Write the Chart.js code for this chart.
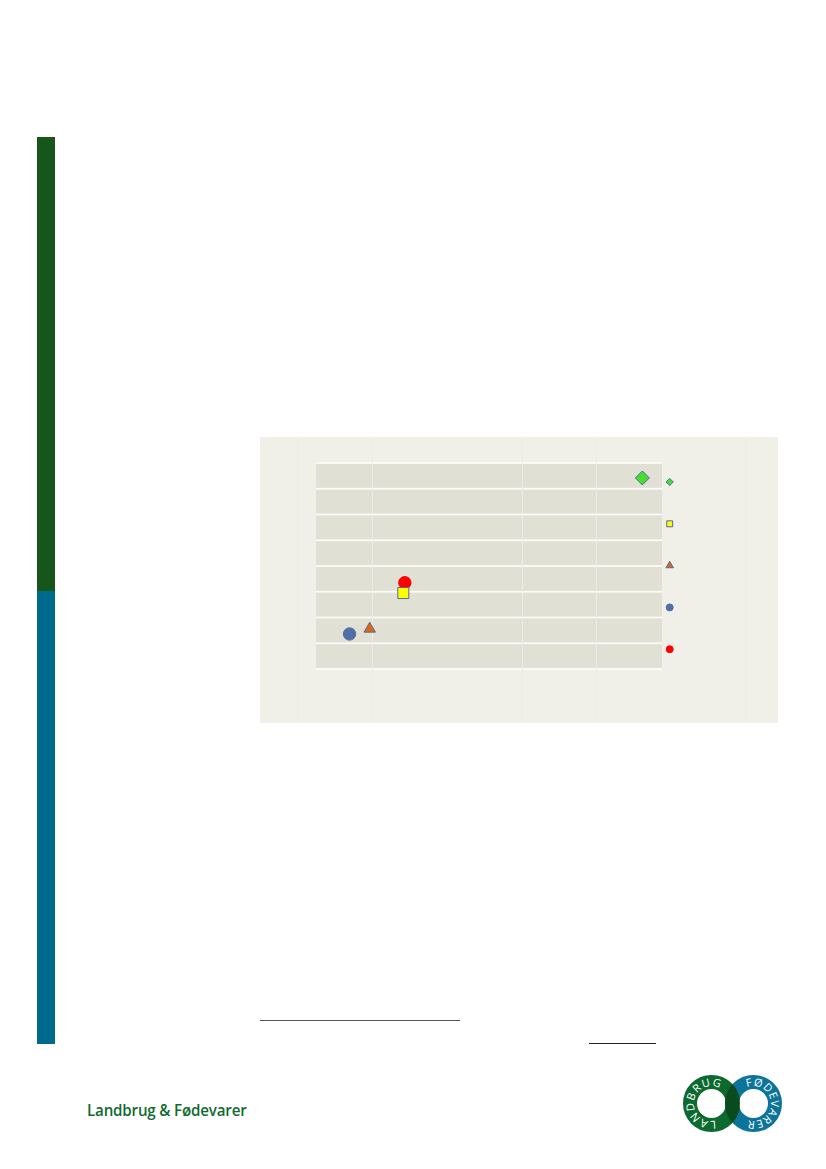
<!DOCTYPE html>
<html>
<head>
<meta charset="utf-8">
<title>Landbrug & Fødevarer</title>
<script src="https://cdn.jsdelivr.net/npm/chart.js@4/dist/chart.umd.min.js"></script>
<style>
html, body { margin: 0; padding: 0; background: #fff; }
#page { position: relative; width: 826px; height: 1169px; overflow: hidden; }
#barGreen { position: absolute; left: 37px; top: 137px; width: 18px; height: 454px; background: #15561a; }
#barBlue { position: absolute; left: 37px; top: 591px; width: 18px; height: 453px; background: #006a8e; }
#chartBox { position: absolute; left: 260px; top: 437px; width: 518px; height: 286px; }
#rule1 { position: absolute; left: 260px; top: 1020px; width: 200px; height: 1px; background: #555; }
#rule2 { position: absolute; left: 589px; top: 1043px; width: 67px; height: 1px; background: #222; }
#wordmark { position: absolute; left: 87px; top: 1098px; font: 600 17px "Open Sans", sans-serif; color: #0f6b30; white-space: nowrap; transform-origin: left top; transform: scaleX(0.89); letter-spacing: -0.2px; }
#logo { position: absolute; left: 675px; top: 1068px; }
</style>
</head>
<body>
<div id="page">
  <div id="barGreen"></div>
  <div id="barBlue"></div>
  <div id="chartBox"><canvas id="myChart"></canvas></div>
  <div id="rule1"></div>
  <div id="rule2"></div>
  <div id="wordmark">Landbrug &amp; Fødevarer</div>
  <svg id="logo" width="115" height="70" viewBox="0 0 115 70">
    <defs>
      <path id="arcL" d="M 40.7 52.5 A 17.5 17.5 0 1 1 52.9 29.5"></path>
      <path id="arcR" d="M 72 19.3 A 17.5 17.5 0 1 1 62.1 41.5"></path>
      <clipPath id="overlap"><circle cx="36.5" cy="35.5" r="28.5"></circle></clipPath>
    </defs>
    <circle cx="78.5" cy="35.5" r="21.5" fill="none" stroke="#0d7499" stroke-width="14"></circle>
    <circle cx="36.5" cy="35.5" r="21.5" fill="none" stroke="#0c6a2e" stroke-width="14"></circle>
    <circle cx="78.5" cy="35.5" r="21.5" fill="none" stroke="#0a4a1f" stroke-width="14" clip-path="url(#overlap)"></circle>
    <text font-family="Open Sans, sans-serif" font-size="11" fill="#fff" letter-spacing="1.2"><textPath href="#arcL">LANDBRUG</textPath></text>
    <text font-family="Open Sans, sans-serif" font-size="11" fill="#fff" letter-spacing="0.6"><textPath href="#arcR">FØDEVARER</textPath></text>
  </svg>
</div>

<script>
var seriesNames = ["Serie 1", "Serie 2", "Serie 3", "Serie 4", "Serie 5"]
var seriesX = [4.61, 1.41, 0.96, 0.69, 1.43]
var seriesY = [7.42, 2.95, 1.56, 1.36, 3.35]
var pointShapes = ["rectRot", "rect", "triangle", "circle", "circle"]
var pointFills = ["#43e02e", "#ffff00", "#e0660f", "#4f6fa8", "#ff0000"]
var xGridValues = [0, 1, 3, 4, 6]
var rowCount = 8

var radiusBig = [7, 7.8, 6.6, 6.2, 6.2]
var radiusSmall = [3.6, 4.2, 4.3, 3.5, 3.5]

// bands behind the points, white line between every row
var rowsPlugin = {
  id: "rows",
  beforeDraw: function (chart) {
    var ctx = chart.ctx
    var y = chart.scales.y
    ctx.save()
    ctx.fillStyle = "#f0efe8"
    ctx.fillRect(0, 0, chart.width, chart.height)
    var left = 56
    var right = 402
    for (var i = 0; i < rowCount; i++) {
      ctx.fillStyle = "#e0e0d5"
      ctx.fillRect(left, y.getPixelForValue(i + 1), right - left, y.getPixelForValue(i) - y.getPixelForValue(i + 1))
    }
    ctx.fillStyle = "#fbfbf8"
    for (var j = 0; j <= rowCount; j++) {
      ctx.fillRect(left, y.getPixelForValue(j) - 0.9, right - left, 1.8)
    }
    ctx.restore()
  }
}

// small markers to the right of the plot, the labels are not in the picture
var keyPlugin = {
  id: "key",
  afterDraw: function (chart) {
    var ctx = chart.ctx
    chart.data.datasets.forEach(function (ds, i) {
      ctx.save()
      ctx.fillStyle = ds.backgroundColor
      ctx.strokeStyle = ds.borderColor
      ctx.lineWidth = ds.borderWidth
      Chart.helpers.drawPoint(ctx, { pointStyle: ds.pointStyle, radius: radiusSmall[i], rotation: 0, borderWidth: ds.borderWidth }, 409.7, 45 + i * 41.8)
      ctx.restore()
    })
  }
}

var datasets = seriesNames.map(function (name, i) {
  return {
    label: name,
    data: [{ x: seriesX[i], y: seriesY[i] }],
    pointStyle: pointShapes[i],
    backgroundColor: pointFills[i],
    borderColor: i >= 3 ? pointFills[i] : "#4f6a9f",
    borderWidth: 1,
    pointRadius: radiusBig[i]
  }
})

new Chart(document.getElementById("myChart"), {
  type: "scatter",
  data: { datasets: datasets },
  plugins: [rowsPlugin, keyPlugin],
  options: {
    responsive: true,
    maintainAspectRatio: false,
    animation: false,
    layout: { padding: 0, autoPadding: false },
    plugins: { legend: { display: false }, tooltip: { enabled: false } },
    scales: {
      x: {
        type: "linear",
        min: -0.509,
        max: 6.426,
        display: true,
        afterBuildTicks: function (axis) {
          axis.ticks = xGridValues.map(function (v) { return { value: v } })
        },
        afterFit: function (axis) { axis.height = 0 },
        ticks: { display: false, padding: 0 },
        border: { display: false },
        grid: { color: "#ecebe4", lineWidth: 1, drawTicks: false, tickLength: 0 }
      },
      y: {
        type: "linear",
        min: -2.097,
        max: 9.01,
        display: false
      }
    }
  }
})
</script>
</body>
</html>
